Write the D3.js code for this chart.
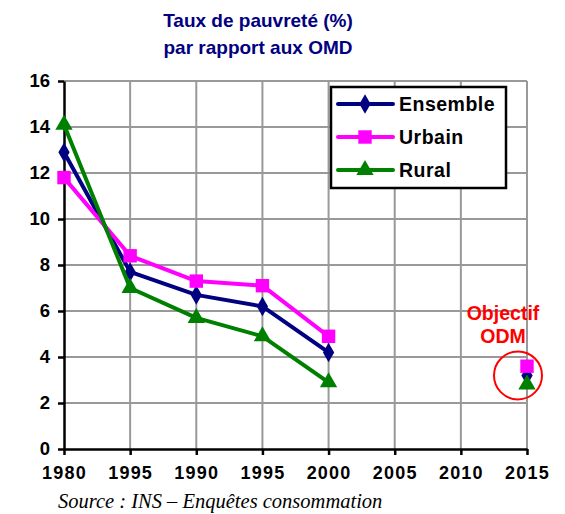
<!DOCTYPE html>
<html>
<head>
<meta charset="utf-8">
<script src="https://cdn.jsdelivr.net/npm/d3@7"></script>
<style>
  body { margin: 0; background: #fff; }
  svg { display: block; font-family: 'Liberation Sans', Arial, sans-serif; }
</style>
</head>
<body>
<div id="chart"></div>
<script>
// categories (the original chart repeats 1995)
var years = ['1980', '1995', '1990', '1995', '2000', '2005', '2010', '2015']
var ensemble = [12.9, 7.7, 6.7, 6.2, 4.2, null, null, 3.2]
var urbain = [11.8, 8.4, 7.3, 7.1, 4.9, null, null, 3.6]
var rural = [14.1, 7.0, 5.7, 4.9, 2.9, null, null, 2.8]
var yTicks = [0, 2, 4, 6, 8, 10, 12, 14, 16]

var width = 565
var height = 514

var series = [
    { name: 'Ensemble', values: ensemble, color: '#000080', symbol: d3.symbolDiamond, size: 110 },
    { name: 'Urbain', values: urbain, color: '#ff00ff', symbol: d3.symbolSquare, size: 180 },
    { name: 'Rural', values: rural, color: '#008000', symbol: d3.symbolTriangle, size: 130 }
]

var svg = d3.select('#chart')
    .append('svg')
    .attr('width', width)
    .attr('height', height)

var xScale = d3.scalePoint()
    .domain(d3.range(years.length))
    .range([64, 527])

var yScale = d3.scaleLinear()
    .domain([0, 16])
    .range([449, 81])

// title
var title = svg.append('text')
    .attr('text-anchor', 'middle')
    .attr('fill', '#000080')
    .attr('font-weight', 'bold')
    .attr('font-size', 19)
title.append('tspan').attr('x', 258).attr('y', 27).text('Taux de pauvreté (%)')
title.append('tspan').attr('x', 258).attr('y', 54).text('par rapport aux OMD')

// grid
svg.append('g')
    .selectAll('line')
    .data(yTicks.filter(d => d > 0))
    .enter()
    .append('line')
    .attr('x1', xScale(0))
    .attr('x2', xScale(7))
    .attr('y1', d => yScale(d))
    .attr('y2', d => yScale(d))
    .attr('stroke', '#999')
    .attr('stroke-width', 2)

svg.append('g')
    .selectAll('line')
    .data(d3.range(1, years.length))
    .enter()
    .append('line')
    .attr('x1', d => xScale(d))
    .attr('x2', d => xScale(d))
    .attr('y1', yScale(16))
    .attr('y2', yScale(0))
    .attr('stroke', '#999')
    .attr('stroke-width', 2)

// axes
var xAxis = d3.axisBottom(xScale)
    .tickFormat(i => years[i])
    .tickSize(6)
    .tickSizeOuter(0)
    .tickPadding(11)

var yAxis = d3.axisLeft(yScale)
    .tickValues(yTicks)
    .tickSize(6)
    .tickSizeOuter(0)
    .tickPadding(8)

var gx = svg.append('g')
    .attr('transform', 'translate(0,' + yScale(0) + ')')
    .call(xAxis)

var gy = svg.append('g')
    .attr('transform', 'translate(' + xScale(0) + ',0)')
    .call(yAxis)

gx.selectAll('.domain, line').attr('stroke', '#000').attr('stroke-width', 2.5)
gy.selectAll('.domain, line').attr('stroke', '#000').attr('stroke-width', 2.5)
gx.selectAll('text')
    .attr('font-family', "'Liberation Sans', Arial, sans-serif")
    .attr('font-size', 18)
    .attr('font-weight', 'bold')
    .attr('letter-spacing', 1.2)
    .attr('fill', '#000')
gy.selectAll('text')
    .attr('font-family', "'Liberation Sans', Arial, sans-serif")
    .attr('font-size', 18.5)
    .attr('font-weight', 'bold')
    .attr('fill', '#000')

// lines and markers
var line = d3.line()
    .defined(d => d != null)
    .x((d, i) => xScale(i))
    .y(d => yScale(d))

series.forEach(function (s) {
    svg.append('path')
        .datum(s.values)
        .attr('d', line)
        .attr('fill', 'none')
        .attr('stroke', s.color)
        .attr('stroke-width', 4)
        .attr('stroke-linejoin', 'round')

    svg.append('g')
        .selectAll('path')
        .data(s.values.map((v, i) => ({ v: v, i: i })).filter(d => d.v != null))
        .enter()
        .append('path')
        .attr('d', d3.symbol().type(s.symbol).size(s.size))
        .attr('transform', d => 'translate(' + xScale(d.i) + ',' + yScale(d.v) + ')')
        .attr('fill', s.color)
})

// objectif ODM
svg.append('circle')
    .attr('cx', xScale(7) - 9)
    .attr('cy', yScale(3.2))
    .attr('r', 24)
    .attr('fill', 'none')
    .attr('stroke', '#ff0000')
    .attr('stroke-width', 2)

var odm = svg.append('text')
    .attr('text-anchor', 'middle')
    .attr('fill', '#ff0000')
    .attr('font-weight', 'bold')
    .attr('font-size', 19.5)
odm.append('tspan').attr('x', 503).attr('y', 320).text('Objectif')
odm.append('tspan').attr('x', 503).attr('y', 343).text('ODM')

// legend
var legend = svg.append('g')
    .attr('transform', 'translate(331,87)')

legend.append('rect')
    .attr('width', 175)
    .attr('height', 101)
    .attr('fill', '#fff')
    .attr('stroke', '#000')
    .attr('stroke-width', 2.5)

series.forEach(function (s, i) {
    var row = legend.append('g')
        .attr('transform', 'translate(0,' + (17 + i * 33) + ')')
    row.append('line')
        .attr('x1', 7)
        .attr('x2', 62)
        .attr('stroke', s.color)
        .attr('stroke-width', 4)
        .attr('stroke-linecap', 'round')
    row.append('path')
        .attr('d', d3.symbol().type(s.symbol).size(s.size))
        .attr('transform', 'translate(34,0)')
        .attr('fill', s.color)
    row.append('text')
        .attr('x', 68)
        .attr('y', 7)
        .attr('font-size', 19.5)
        .attr('font-weight', 'bold')
        .attr('letter-spacing', 0.5)
        .attr('fill', '#000')
        .text(s.name)
})

// source
svg.append('text')
    .attr('x', 58)
    .attr('y', 508)
    .attr('font-family', "'Liberation Serif', 'Times New Roman', serif")
    .attr('font-style', 'italic')
    .attr('font-size', 20.5)
    .attr('fill', '#000')
    .text('Source : INS – Enquêtes consommation')
</script>
</body>
</html>
